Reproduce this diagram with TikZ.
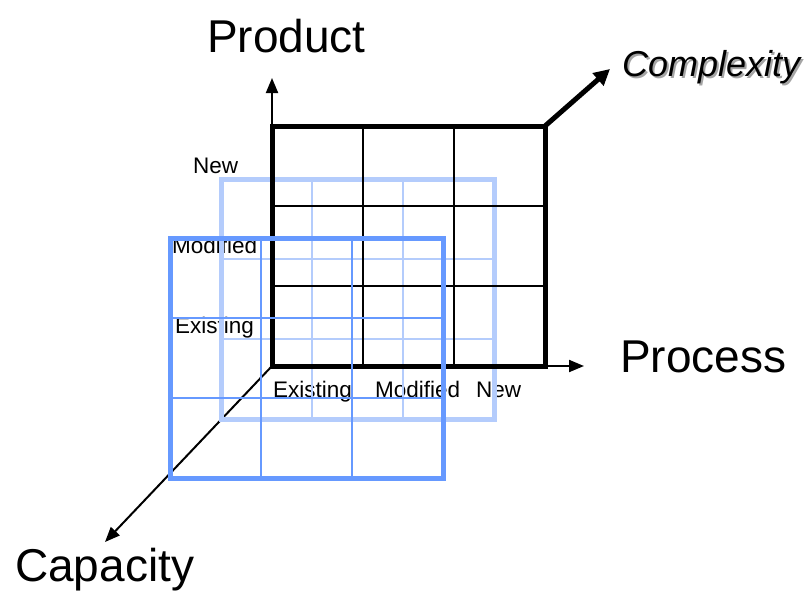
\documentclass[tikz,border=0pt]{standalone}
\usepackage{fontspec}
\setmainfont{Liberation Sans}
\usetikzlibrary{arrows.meta}
\definecolor{lightgrid}{RGB}{180,204,252}
\definecolor{midgrid}{RGB}{102,153,255}
\definecolor{shadowgray}{RGB}{165,165,165}
\begin{document}
\begin{tikzpicture}[x=1pt,y=-1pt,
  lbl/.style={inner sep=0pt,anchor=base west},
  big/.style={lbl,font=\fontsize{46}{55}\selectfont},
  small/.style={lbl,font=\fontsize{22.5}{27}\selectfont},
  cplx/.style={lbl,font=\fontsize{36}{42}\selectfont\itshape},
  outerline/.style={line width=5pt},
  innerline/.style={line width=1.8pt},
  thinaxis/.style={line width=2pt,-{Triangle[length=15pt,width=12pt]}},
  thickaxis/.style={line width=5pt,-{Triangle[length=16pt,width=16pt]}}
]
\useasboundingbox (0,0) rectangle (810,590);
\newcommand{\gridbox}[3]{%
  \draw[innerline,#3] (#1+91,#2) -- ++(0,240) (#1+182,#2) -- ++(0,240)
        (#1,#2+80) -- ++(273,0) (#1,#2+160) -- ++(273,0);
  \draw[outerline,#3] (#1,#2) rectangle ++(273,240);}
% axis coordinates
\coordinate (tl) at (272,126);
\coordinate (tr) at (545,126);
\coordinate (bl) at (272,366);
\coordinate (br) at (545,366);
\coordinate (ptip) at (272,78);
\coordinate (rtip) at (584,366);
\coordinate (ctip) at (610,69);
\coordinate (qtip) at (105,542);
% capacity axis (behind grids)
\draw[thinaxis] (bl) -- (qtip);
% labels
\node[big] (product) at (207,52) {Product};
\node[big] (process) at (620,372) {Process};
\node[big] (capacity) at (15,581) {Capacity};
\node[cplx,text=shadowgray] (complexityshadow) at (624,78) {Complexity};
\node[cplx] (complexity) at (622,76) {Complexity};
\node[small] (ynew) at (193,173) {New};
\node[small] (ymod) at (172,253) {Modified};
\node[small] (yexist) at (175,333) {Existing};
\node[small] (xexist) at (273,397) {Existing};
\node[small] (xmod) at (375,397) {Modified};
\node[small] (xnew) at (476,397) {New};
% grids
\gridbox{221}{179}{lightgrid}
\gridbox{272}{126}{black}
\draw[thinaxis] (tl) -- (ptip);
\draw[thinaxis] (br) -- (rtip);
\draw[thickaxis] (tr) -- (ctip);
\gridbox{170}{238}{midgrid}
\end{tikzpicture}
\end{document}
